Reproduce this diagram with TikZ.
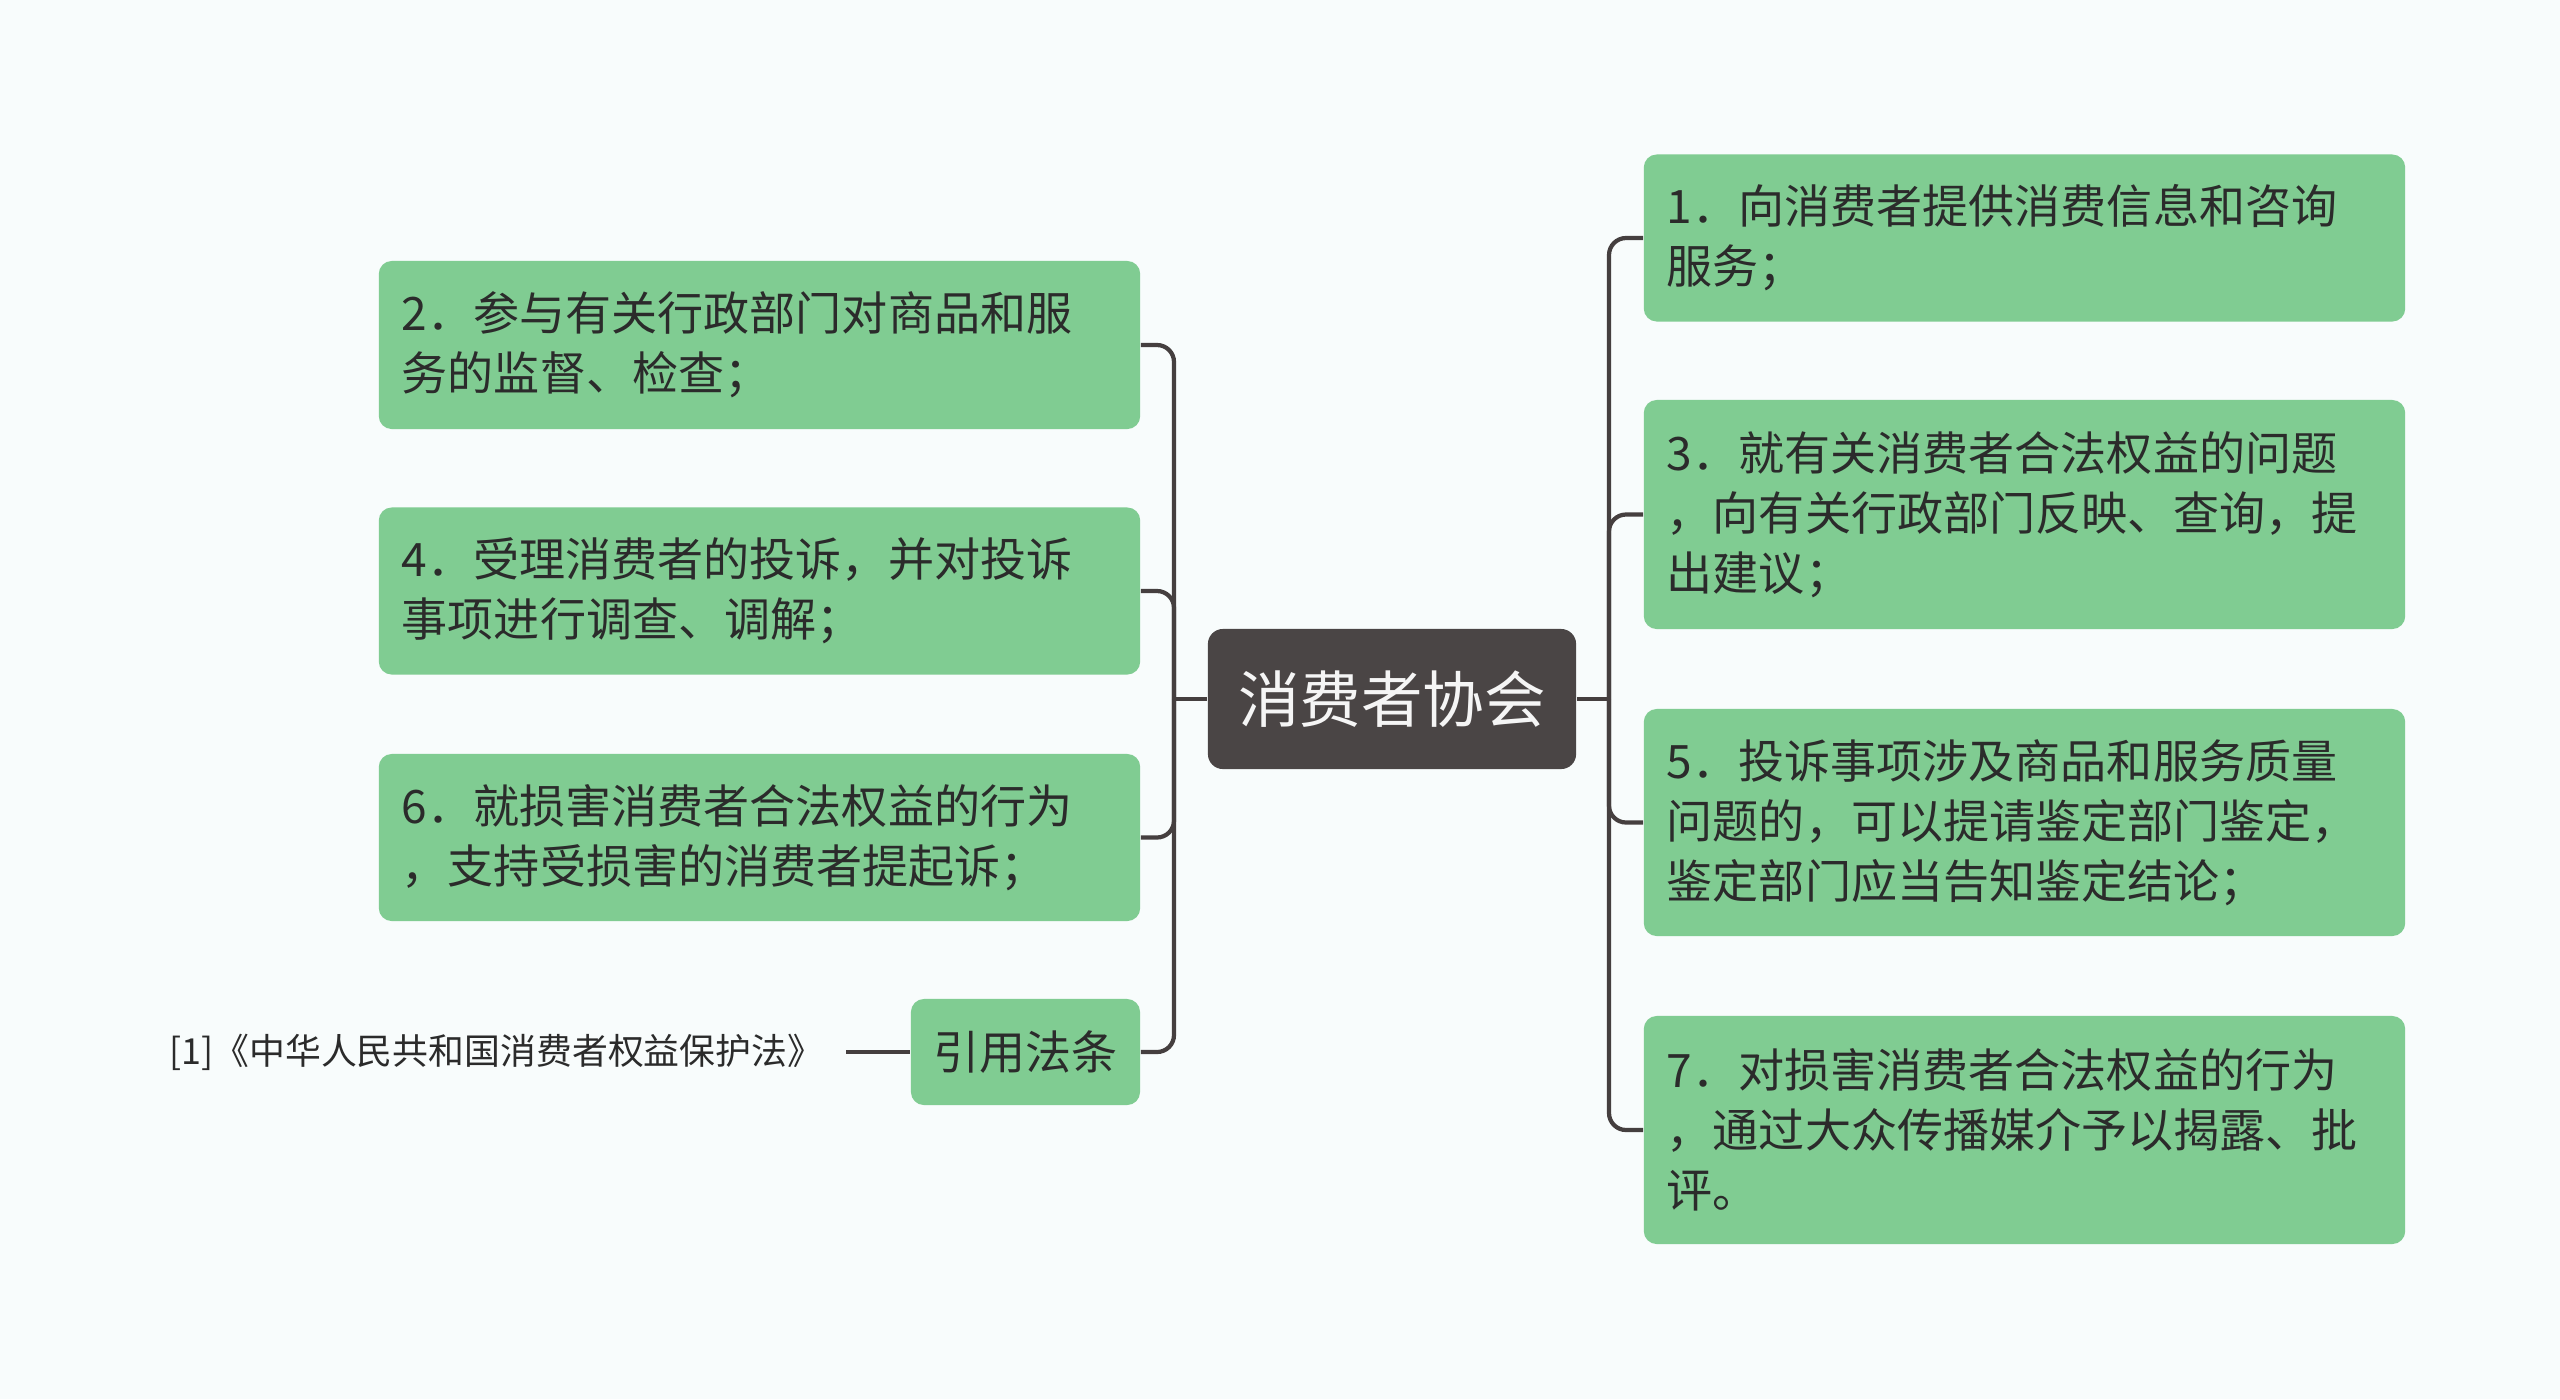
\documentclass[tikz,border=0pt]{standalone}
\usepackage{fontspec}
\newfontfamily\cjk{Noto Sans CJK SC}
\usepackage{xcolor}
\usetikzlibrary{positioning}

\definecolor{bgpaper}{HTML}{F8FCFC}
\definecolor{leafgreen}{HTML}{80CC92}
\definecolor{hubgray}{HTML}{4A4545}
\definecolor{linegray}{HTML}{453F3F}
\definecolor{inkdark}{HTML}{2B2B2B}

\tikzset{
  leaf/.style={fill=leafgreen, rounded corners=0.13cm, text=inkdark,
    text width=7.15cm, inner xsep=0.23cm, inner ysep=0pt, align=left,
    font=\cjk\fontsize{13.1pt}{17pt}\selectfont},
  hub/.style={fill=hubgray, rounded corners=0.15cm, text=white!96!black,
    minimum width=3.68cm, minimum height=1.40cm, inner sep=0pt,
    font=\cjk\fontsize{17.5pt}{20pt}\selectfont},
  lawbox/.style={fill=leafgreen, rounded corners=0.13cm, text=inkdark,
    minimum width=2.29cm, minimum height=1.06cm, inner sep=0pt,
    font=\cjk\fontsize{13.1pt}{17pt}\selectfont},
  cite/.style={text=inkdark, inner xsep=0.22cm, inner ysep=0pt,
    font=\cjk\fontsize{10.2pt}{12pt}\selectfont},
  conn/.style={draw=linegray, line width=1.2pt, rounded corners=0.17cm},
}

\begin{document}
\begin{tikzpicture}[x=0.01cm, y=-0.01cm]
    % Paper
    \fill[bgpaper] (0,0) rectangle (2560,1399);
    \useasboundingbox (0,0) rectangle (2560,1399);

    % Central topic
    \node[hub] (hub) at (1392,699) {消费者协会};

    % Left branch
    \node[leaf, minimum height=1.68cm] (n2) at (759.5,345) {2．参与有关行政部门对商品和服\\务的监督、检查；};
    \node[leaf, minimum height=1.67cm] (n4) at (759.5,591) {4．受理消费者的投诉，并对投诉\\事项进行调查、调解；};
    \node[leaf, minimum height=1.67cm] (n6) at (759.5,837.5) {6．就损害消费者合法权益的行为\\，支持受损害的消费者提起诉；};
    \node[lawbox] (law) at (1025.5,1052) {引用法条};
    \node[cite, anchor=east] (cite) at (846,1052) {[1]《中华人民共和国消费者权益保护法》};

    % Right branch
    \node[leaf, minimum height=1.67cm] (n1) at (2024.5,238) {1．向消费者提供消费信息和咨询\\服务；};
    \node[leaf, minimum height=2.29cm] (n3) at (2024.5,514.5) {3．就有关消费者合法权益的问题\\，向有关行政部门反映、查询，提\\出建议；};
    \node[leaf, minimum height=2.27cm] (n5) at (2024.5,822.5) {5．投诉事项涉及商品和服务质量\\问题的，可以提请鉴定部门鉴定，\\鉴定部门应当告知鉴定结论；};
    \node[leaf, minimum height=2.28cm] (n7) at (2024.5,1130) {7．对损害消费者合法权益的行为\\，通过大众传播媒介予以揭露、批\\评。};

    % Bus points
    \coordinate (busL) at (1174,699);
    \coordinate (busR) at (1609,699);

    % Connectors
    \draw[conn] (hub.west) -- (busL);
    \foreach \k in {n2,n4,n6,law}
      \draw[conn] (busL) |- (\k.east);
    \draw[conn] (hub.east) -- (busR);
    \foreach \k in {n1,n3,n5,n7}
      \draw[conn] (busR) |- (\k.west);
    \draw[conn] (cite.east) -- (law.west);
\end{tikzpicture}
\end{document}
